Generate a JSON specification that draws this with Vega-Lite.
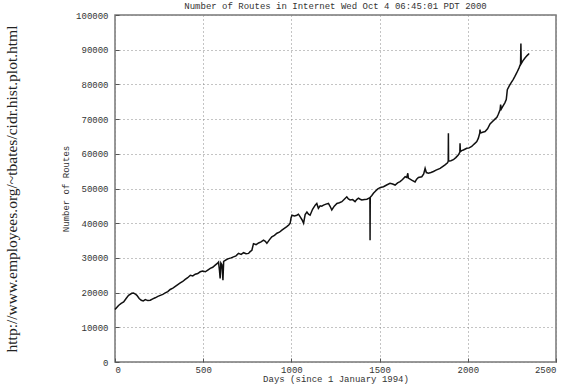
{
  "$schema": "https://vega.github.io/schema/vega-lite/v6.json",
  "autosize": "none",
  "padding": {"left": 115, "top": 15, "right": 7, "bottom": 28},
  "width": 441,
  "height": 347,
  "background": "white",
  "title": {
    "text": "Number of Routes in Internet Wed Oct  4 06:45:01 PDT 2000",
    "font": "Liberation Mono",
    "fontSize": 9,
    "fontWeight": "normal",
    "color": "#333",
    "anchor": "middle",
    "offset": 0
  },
  "config": {
    "view": {"stroke": "#777", "strokeWidth": 1.5},
    "axis": {
      "labelFont": "Liberation Mono",
      "labelFontSize": 9,
      "labelColor": "#333",
      "titleFont": "Liberation Mono",
      "titleFontSize": 9,
      "titleFontWeight": "normal",
      "titleColor": "#333",
      "domain": false,
      "grid": true,
      "gridColor": "#888",
      "gridDash": [1, 3],
      "gridWidth": 1,
      "tickColor": "#555",
      "tickSize": -4,
      "tickWidth": 1
    }
  },
  "data": {
    "values": [
      {"day": 0, "routes": 15100}, {"day": 10, "routes": 15700}, {"day": 20, "routes": 16300}, {"day": 35, "routes": 16900},
      {"day": 49, "routes": 17300}, {"day": 63, "routes": 18300}, {"day": 77, "routes": 19200}, {"day": 95, "routes": 19800},
      {"day": 105, "routes": 19900}, {"day": 115, "routes": 19600}, {"day": 124, "routes": 19200}, {"day": 137, "routes": 18300},
      {"day": 149, "routes": 17800}, {"day": 160, "routes": 17600}, {"day": 172, "routes": 18000}, {"day": 186, "routes": 17700},
      {"day": 200, "routes": 17800}, {"day": 214, "routes": 18200}, {"day": 228, "routes": 18500}, {"day": 243, "routes": 18900},
      {"day": 257, "routes": 19200}, {"day": 271, "routes": 19500}, {"day": 285, "routes": 19900}, {"day": 299, "routes": 20300},
      {"day": 313, "routes": 20900}, {"day": 328, "routes": 21300}, {"day": 342, "routes": 21800}, {"day": 356, "routes": 22300},
      {"day": 370, "routes": 22800}, {"day": 384, "routes": 23200}, {"day": 398, "routes": 23800}, {"day": 412, "routes": 24300},
      {"day": 427, "routes": 25000}, {"day": 441, "routes": 24800}, {"day": 455, "routes": 25300}, {"day": 469, "routes": 25500},
      {"day": 483, "routes": 26000}, {"day": 497, "routes": 26200}, {"day": 512, "routes": 26000}, {"day": 526, "routes": 26500},
      {"day": 540, "routes": 27000}, {"day": 554, "routes": 27300}, {"day": 568, "routes": 27900}, {"day": 580, "routes": 28400},
      {"day": 587, "routes": 28800}, {"day": 592, "routes": 26500}, {"day": 596, "routes": 24100}, {"day": 600, "routes": 28500},
      {"day": 606, "routes": 28000}, {"day": 612, "routes": 23600}, {"day": 616, "routes": 29000}, {"day": 625, "routes": 29300},
      {"day": 635, "routes": 29600}, {"day": 644, "routes": 29800}, {"day": 658, "routes": 30000}, {"day": 672, "routes": 30300},
      {"day": 686, "routes": 30600}, {"day": 700, "routes": 31300}, {"day": 715, "routes": 31000}, {"day": 729, "routes": 31500},
      {"day": 743, "routes": 31200}, {"day": 757, "routes": 31300}, {"day": 766, "routes": 31800}, {"day": 776, "routes": 32200},
      {"day": 785, "routes": 34100}, {"day": 800, "routes": 33800}, {"day": 814, "routes": 34300}, {"day": 828, "routes": 34600},
      {"day": 842, "routes": 35100}, {"day": 852, "routes": 34800}, {"day": 861, "routes": 34200}, {"day": 875, "routes": 35200},
      {"day": 889, "routes": 36100}, {"day": 904, "routes": 36500}, {"day": 918, "routes": 37100}, {"day": 932, "routes": 37400},
      {"day": 946, "routes": 38000}, {"day": 960, "routes": 38500}, {"day": 974, "routes": 39000}, {"day": 985, "routes": 39500},
      {"day": 993, "routes": 40000}, {"day": 998, "routes": 41500}, {"day": 1003, "routes": 42300}, {"day": 1017, "routes": 42100},
      {"day": 1031, "routes": 42300}, {"day": 1040, "routes": 42600}, {"day": 1050, "routes": 41800}, {"day": 1060, "routes": 41000},
      {"day": 1069, "routes": 40000}, {"day": 1078, "routes": 42500}, {"day": 1088, "routes": 43200}, {"day": 1097, "routes": 42600},
      {"day": 1106, "routes": 42300}, {"day": 1120, "routes": 44000}, {"day": 1135, "routes": 45200}, {"day": 1144, "routes": 45700},
      {"day": 1153, "routes": 44300}, {"day": 1163, "routes": 45000}, {"day": 1172, "routes": 44900}, {"day": 1182, "routes": 45200},
      {"day": 1196, "routes": 45500}, {"day": 1210, "routes": 45700}, {"day": 1220, "routes": 44800}, {"day": 1229, "routes": 43800},
      {"day": 1243, "routes": 44900}, {"day": 1258, "routes": 45700}, {"day": 1272, "routes": 45900}, {"day": 1286, "routes": 46200},
      {"day": 1300, "routes": 46900}, {"day": 1314, "routes": 47600}, {"day": 1323, "routes": 47000}, {"day": 1333, "routes": 46700},
      {"day": 1347, "routes": 46800}, {"day": 1361, "routes": 46200}, {"day": 1370, "routes": 46800}, {"day": 1380, "routes": 47200},
      {"day": 1390, "routes": 46900}, {"day": 1399, "routes": 46700}, {"day": 1414, "routes": 46800}, {"day": 1428, "routes": 46900},
      {"day": 1440, "routes": 47200}, {"day": 1445, "routes": 47400}, {"day": 1446, "routes": 35100}, {"day": 1447, "routes": 47500},
      {"day": 1456, "routes": 48000}, {"day": 1465, "routes": 48600}, {"day": 1476, "routes": 49200}, {"day": 1488, "routes": 49800},
      {"day": 1505, "routes": 50300}, {"day": 1522, "routes": 50500}, {"day": 1540, "routes": 51000}, {"day": 1559, "routes": 51500},
      {"day": 1574, "routes": 51300}, {"day": 1588, "routes": 51000}, {"day": 1602, "routes": 51600}, {"day": 1616, "routes": 52000},
      {"day": 1630, "routes": 52600}, {"day": 1645, "routes": 53400}, {"day": 1654, "routes": 53200}, {"day": 1660, "routes": 54400},
      {"day": 1663, "routes": 53000}, {"day": 1682, "routes": 52400}, {"day": 1701, "routes": 51900}, {"day": 1710, "routes": 52700},
      {"day": 1720, "routes": 53200}, {"day": 1739, "routes": 53400}, {"day": 1750, "routes": 54200}, {"day": 1758, "routes": 55800},
      {"day": 1765, "routes": 54600}, {"day": 1777, "routes": 54400}, {"day": 1791, "routes": 54600}, {"day": 1805, "routes": 54900},
      {"day": 1820, "routes": 55300}, {"day": 1843, "routes": 55800}, {"day": 1857, "routes": 56300}, {"day": 1871, "routes": 56800},
      {"day": 1885, "routes": 57400}, {"day": 1889, "routes": 57800}, {"day": 1890, "routes": 65900}, {"day": 1891, "routes": 57900},
      {"day": 1904, "routes": 58000}, {"day": 1918, "routes": 58300}, {"day": 1932, "routes": 58900}, {"day": 1947, "routes": 59700},
      {"day": 1955, "routes": 60500}, {"day": 1956, "routes": 63000}, {"day": 1958, "routes": 60600}, {"day": 1965, "routes": 60900},
      {"day": 1975, "routes": 61100}, {"day": 1994, "routes": 61600}, {"day": 2008, "routes": 61700}, {"day": 2022, "routes": 62100},
      {"day": 2036, "routes": 62800}, {"day": 2051, "routes": 63500}, {"day": 2060, "routes": 64500}, {"day": 2068, "routes": 66000},
      {"day": 2069, "routes": 67000}, {"day": 2072, "routes": 66000}, {"day": 2084, "routes": 66200}, {"day": 2098, "routes": 66400},
      {"day": 2112, "routes": 67200}, {"day": 2126, "routes": 68600}, {"day": 2140, "routes": 69300}, {"day": 2154, "routes": 70000},
      {"day": 2165, "routes": 70500}, {"day": 2173, "routes": 71400}, {"day": 2183, "routes": 72700}, {"day": 2186, "routes": 74200},
      {"day": 2190, "routes": 72900}, {"day": 2200, "routes": 73800}, {"day": 2210, "routes": 74700}, {"day": 2218, "routes": 75600},
      {"day": 2221, "routes": 77000}, {"day": 2224, "routes": 78500}, {"day": 2235, "routes": 79600}, {"day": 2246, "routes": 80500},
      {"day": 2257, "routes": 81400}, {"day": 2267, "routes": 82300}, {"day": 2277, "routes": 83300}, {"day": 2290, "routes": 84700},
      {"day": 2299, "routes": 85900}, {"day": 2301, "routes": 91800}, {"day": 2303, "routes": 86000}, {"day": 2312, "routes": 86800},
      {"day": 2324, "routes": 87600}, {"day": 2336, "routes": 88300}, {"day": 2348, "routes": 88900}
    ]
  },
  "layer": [
    {
      "mark": {"type": "line", "color": "#111", "strokeWidth": 1.5},
      "encoding": {
        "x": {
          "field": "day", "type": "quantitative",
          "scale": {"domain": [0, 2500], "nice": false},
          "axis": {"values": [0, 500, 1000, 1500, 2000, 2500], "format": "d", "title": "Days (since 1 January 1994)", "labelPadding": 7, "titlePadding": 0}
        },
        "y": {
          "field": "routes", "type": "quantitative",
          "scale": {"domain": [0, 100000], "nice": false},
          "axis": {"values": [0, 10000, 20000, 30000, 40000, 50000, 60000, 70000, 80000, 90000, 100000], "format": "d", "title": "Number of Routes", "labelPadding": 11, "titlePadding": 5}
        }
      }
    },
    {
      "mark": {"type": "line", "opacity": 0},
      "encoding": {
        "x": {"field": "day", "type": "quantitative"},
        "y": {
          "field": "routes", "type": "quantitative",
          "axis": {"orient": "left", "labels": false, "ticks": false, "grid": false, "domain": false,
                   "title": "http://www.employees.org/~tbates/cidr.hist.plot.html",
                   "titleFont": "Liberation Serif", "titleFontSize": 15.5, "titleColor": "#222", "titlePadding": 96}
        }
      }
    }
  ],
  "resolve": {"axis": {"y": "independent"}}
}
